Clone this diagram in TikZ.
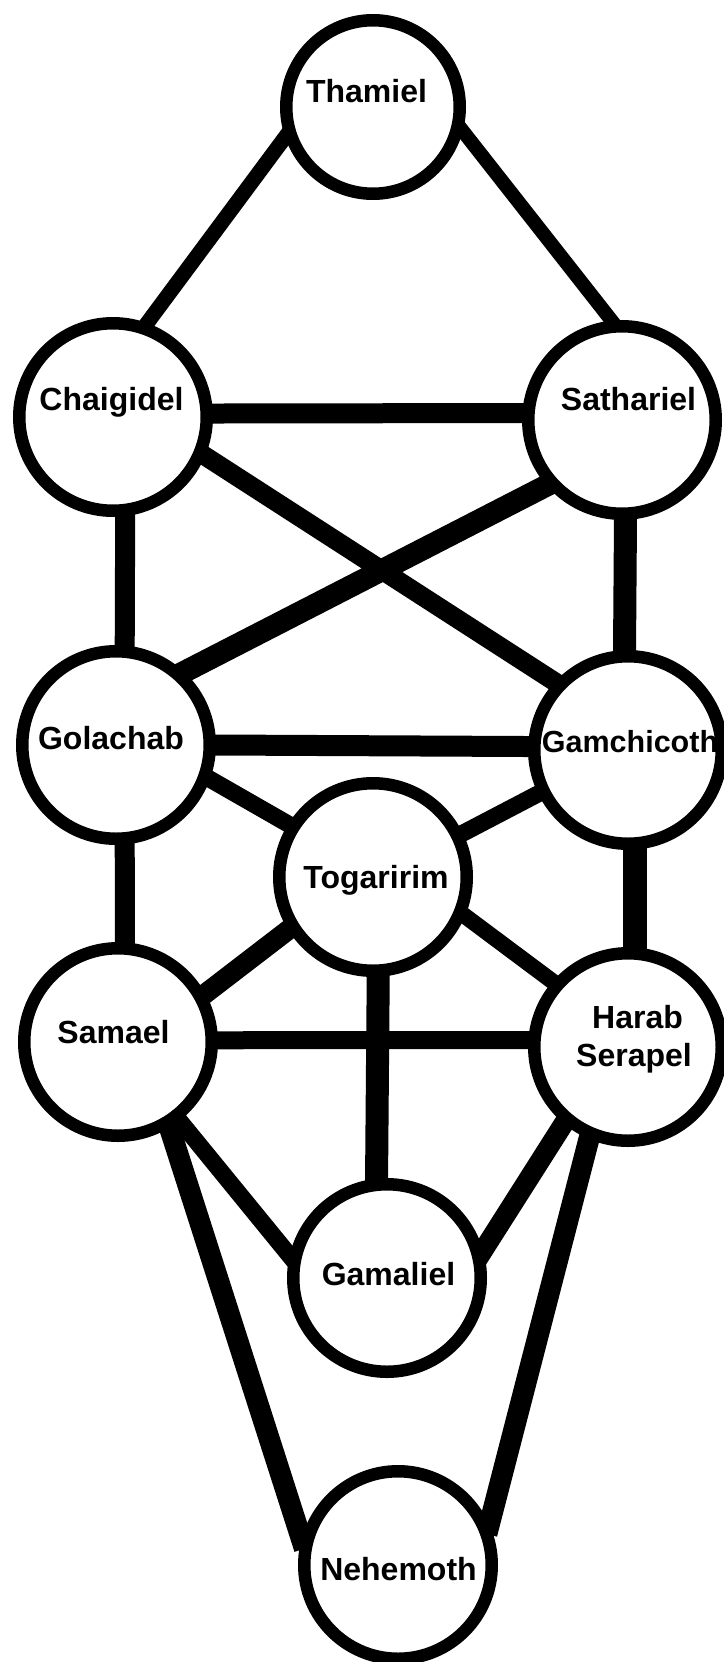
\documentclass[tikz,border=0pt]{standalone}
\usepackage{fontspec}
\setmainfont{Liberation Sans}
\usetikzlibrary{backgrounds}
\begin{document}
\begin{tikzpicture}[x=1pt,y=-1pt,
  sph/.style={circle,draw=black,line width=12.5pt,fill=white,minimum size=187.5pt,inner sep=0pt},
  lbl/.style={font=\bfseries\fontsize{32}{38}\selectfont,anchor=base,inner sep=0pt},
  ln/.style={draw=black,line width=#1,shorten <=-10pt,shorten >=-10pt}]
\useasboundingbox (0,0) rectangle (723,1662);
% spheres
\node[sph,minimum size=173.5pt] (thamiel) at (373,107) {};
\node[sph] (chaigidel)  at (113,417) {};
\node[sph] (sathariel)  at (622,420) {};
\node[sph] (golachab)   at (116,745) {};
\node[sph] (gamchicoth) at (628,750) {};
\node[sph] (togaririm)  at (373,877) {};
\node[sph] (samael)     at (118,1042) {};
\node[sph] (harab)      at (628,1047) {};
\node[sph] (gamaliel)   at (387,1278) {};
\node[sph] (nehemoth)   at (398,1565) {};
% labels
\node[lbl] (thamielT)    at (366.5,102) {Thamiel};
\node[lbl] (chaigidelT)  at (111.5,410) {Chaigidel};
\node[lbl] (satharielT)  at (628.5,410) {Sathariel};
\node[lbl] (golachabT)   at (111,749)   {Golachab};
\node[lbl,font=\bfseries\fontsize{30.5}{36}\selectfont] (gamchicothT) at (630,752) {Gamchicoth};
\node[lbl] (togaririmT)  at (376,888)   {Togaririm};
\node[lbl] (samaelT)     at (113.5,1043) {Samael};
\node[lbl] (harabT)      at (637.5,1028) {Harab};
\node[lbl] (serapelT)    at (634,1066)  {Serapel};
\node[lbl] (gamalielT)   at (388.5,1285) {Gamaliel};
\node[lbl] (nehemothT)   at (398.5,1580) {Nehemoth};
% connectors
\begin{scope}[on background layer]
\fill[white] (0,0) rectangle (723,1662);
\draw[ln=15pt] (thamiel.199.6) -- (chaigidel.70);
\draw[ln=14pt] (thamiel.-15) -- (sathariel.96);
\draw[ln=20pt] (chaigidel.2) -- (sathariel.176);
\draw[ln=19pt] (chaigidel.-23.6) -- (gamchicoth.137.8);
\draw[ln=22pt] (sathariel.221.7) -- (golachab.47.8);
\draw[ln=20pt] (chaigidel.-83) -- (golachab.85);
\draw[ln=23pt] (sathariel.-88) -- (gamchicoth.92);
\draw[ln=21pt] (golachab.0) -- (gamchicoth.178);
\draw[ln=17pt] (golachab.-20.5) -- (togaririm.148);
\draw[ln=17pt] (gamchicoth.206) -- (togaririm.26);
\draw[ln=20pt] (golachab.-85) -- (samael.86);
\draw[ln=24pt] (gamchicoth.-86.5) -- (harab.86.5);
\draw[ln=20pt] (samael.29.8) -- (togaririm.212.7);
\draw[ln=16pt] (togaririm.-23.4) -- (harab.139.7);
\draw[ln=18pt] (samael.1.5) -- (harab.176);
\draw[ln=23pt] (togaririm.-87) -- (gamaliel.96);
\draw[ln=17pt] (samael.-52.6) -- (gamaliel.167.8);
\draw[ln=20pt] (harab.230) -- (gamaliel.16.3);
\draw[ln=21pt] (samael.-59.4) -- (nehemoth.165);
\draw[ln=21pt] (harab.247.8) -- (nehemoth.24);
\end{scope}
\end{tikzpicture}
\end{document}
